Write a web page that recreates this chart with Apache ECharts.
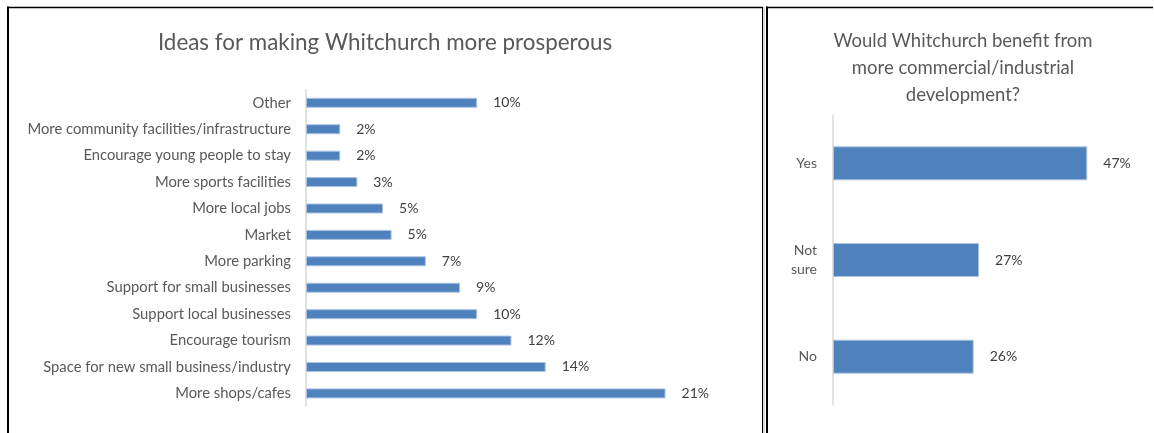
<!DOCTYPE html>
<html><head><meta charset="utf-8">
<script src="https://cdn.jsdelivr.net/npm/echarts@6/dist/echarts.min.js"></script>
<style>html,body{margin:0;padding:0;background:#fff}#c{width:1154px;height:433px}</style>
</head><body><div id="c"></div>
<script>
const leftTitle = 'Ideas for making Whitchurch more prosperous';
const ideaCategories = ['Other', 'More community facilities/infrastructure', 'Encourage young people to stay', 'More sports facilities', 'More local jobs', 'Market', 'More parking', 'Support for small businesses', 'Support local businesses', 'Encourage tourism', 'Space for new small business/industry', 'More shops/cafes'];
const ideaValues = [10, 2, 2, 3, 4.5, 5, 7, 9, 10, 12, 14, 21];
const rightTitle = 'Would Whitchurch benefit from\nmore commercial/industrial\ndevelopment?';
const benefitCategories = ['Yes', 'Not sure', 'No'];
const benefitValues = [47, 27, 26];

const FONT = 'Lato';
const chart = echarts.init(document.getElementById('c'), null, {renderer: 'canvas'});
const barStyle = {color: '#4f81bd', borderColor: '#a9c2e2', borderWidth: 1};
const valueLabel = {show: true, position: 'right', distance: 16, color: '#404040', fontFamily: FONT, fontSize: 14,
  formatter: p => Math.round(p.value) + '%'};

chart.setOption({
  animation: false,
  backgroundColor: '#fff',
  title: [
    {text: leftTitle, left: 380, top: 27, textAlign: 'center',
     textStyle: {fontFamily: FONT, fontSize: 22.4, fontWeight: 'normal', color: '#595959'}},
    {text: rightTitle, left: 958, top: 22.5, textAlign: 'center',
     textStyle: {fontFamily: FONT, fontSize: 18.5, fontWeight: 'normal', color: '#595959', lineHeight: 27}}
  ],
  grid: [
    {left: 306, top: 89.6, width: 428, height: 317, containLabel: false},
    {left: 833, top: 115, width: 270.5, height: 290, containLabel: false}
  ],
  xAxis: [
    {type: 'value', gridIndex: 0, min: 0, max: 25, show: false},
    {type: 'value', gridIndex: 1, min: 0, max: 50, show: false}
  ],
  yAxis: [
    {type: 'category', gridIndex: 0, data: ideaCategories, inverse: true,
     axisLine: {show: true, lineStyle: {color: '#d9d9d9', width: 1.5}}, axisTick: {show: false},
     axisLabel: {margin: 15, color: '#595959', fontFamily: FONT, fontSize: 14.8}},
    {type: 'category', gridIndex: 1, data: benefitCategories, inverse: true,
     axisLine: {show: true, lineStyle: {color: '#d9d9d9', width: 1.5}}, axisTick: {show: false},
     axisLabel: {margin: 16, color: '#595959', fontFamily: FONT, fontSize: 14, lineHeight: 18.5,
       formatter: v => v.replace(' ', '\n')}}
  ],
  series: [
    {type: 'bar', xAxisIndex: 0, yAxisIndex: 0, data: ideaValues, barWidth: 10, itemStyle: barStyle, label: valueLabel},
    {type: 'bar', xAxisIndex: 1, yAxisIndex: 1, data: benefitValues, barWidth: 34, itemStyle: barStyle, label: valueLabel}
  ],
  graphic: [
    {type: 'line', shape: {x1: 8, y1: 6.5, x2: 8, y2: 433}, style: {stroke: '#000', lineWidth: 2}, silent: true},
    {type: 'line', shape: {x1: 7, y1: 7.5, x2: 763, y2: 7.5}, style: {stroke: '#000', lineWidth: 1.5}, silent: true},
    {type: 'line', shape: {x1: 762.5, y1: 7, x2: 762.5, y2: 433}, style: {stroke: '#000', lineWidth: 1}, silent: true},
    {type: 'line', shape: {x1: 764, y1: 7, x2: 764, y2: 433}, style: {stroke: '#bbb', lineWidth: 1}, silent: true},
    {type: 'line', shape: {x1: 767, y1: 6.5, x2: 767, y2: 433}, style: {stroke: '#000', lineWidth: 2}, silent: true},
    {type: 'line', shape: {x1: 766, y1: 7.5, x2: 1153, y2: 7.5}, style: {stroke: '#000', lineWidth: 1.5}, silent: true}
  ]
});
</script></body></html>
